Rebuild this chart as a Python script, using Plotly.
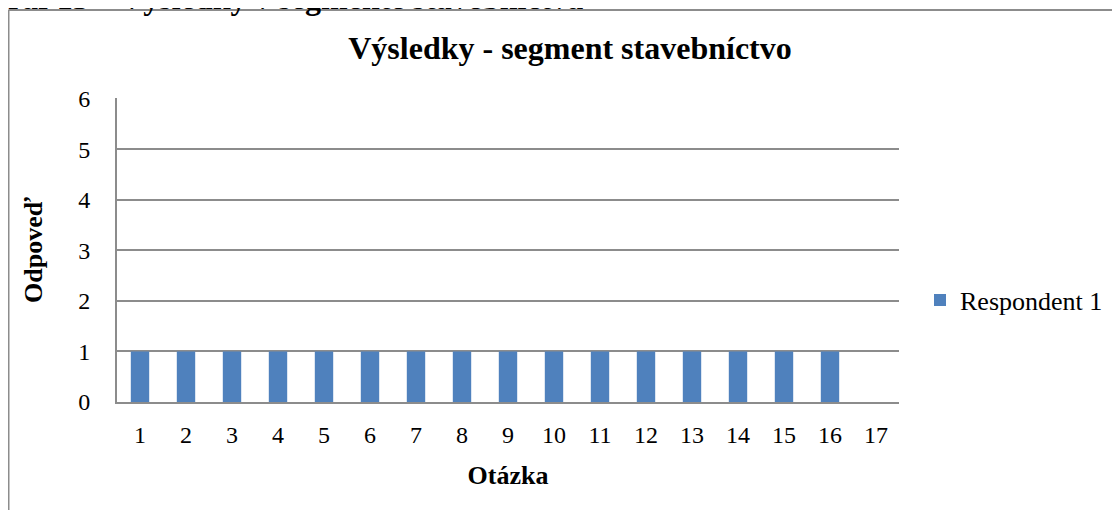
import plotly.graph_objects as go

categories = [str(i) for i in range(1, 18)]
respondent1 = [1, 1, 1, 1, 1, 1, 1, 1, 1, 1, 1, 1, 1, 1, 1, 1, None]
y_ticks = [0, 1, 2, 3, 4, 5, 6]

FONT = "Liberation Serif"
GRID = "#8c8c8c"

# figure coordinates (page has an 8px body margin)
W, H = 1112, 502
L, R, T, B = 109, 221, 90, 108
pw, ph = W - L - R, H - T - B

def px(x):
    return (x - L) / pw

def py(y):
    return (H - B - y) / ph

fig = go.Figure()
fig.add_trace(go.Bar(
    x=categories, y=respondent1, name="Respondent 1",
    marker=dict(color="#4F81BD", line=dict(width=0)),
    showlegend=True,
))

fig.update_layout(
    width=W, height=H,
    margin=dict(l=L, r=R, t=T, b=B, autoexpand=False),
    paper_bgcolor="white", plot_bgcolor="white",
    bargap=0.6,
    font=dict(family=FONT, color="black", size=24),
    title=dict(text="<b>Výsledky - segment stavebníctvo</b>",
               font=dict(family=FONT, size=32, color="black"),
               x=562 / W, xanchor="center", y=1 - 40 / H, yanchor="middle"),
    xaxis=dict(type="category", tickfont=dict(family=FONT, size=24, color="black"),
               showgrid=False,
               showline=True, linecolor=GRID, linewidth=2,
               ticks="", ticklen=0, ticklabelstandoff=10,
               title=dict(text="<b>Otázka</b>",
                          font=dict(family=FONT, size=26, color="black"), standoff=19)),
    yaxis=dict(range=[0, 6.015], tickvals=y_ticks,
               tickfont=dict(family=FONT, size=24, color="black"),
               showgrid=True, gridcolor=GRID, gridwidth=2,
               showline=True, linecolor=GRID, linewidth=2, zeroline=False,
               ticks="", ticklen=0, ticklabelstandoff=20,
               title=dict(text="<b>Odpoveď</b>",
                          font=dict(family=FONT, size=26, color="black"), standoff=28)),
    legend=dict(x=px(912), y=py(292), xanchor="left", yanchor="middle",
                font=dict(family=FONT, size=26, color="black"),
                bgcolor="rgba(0,0,0,0)", itemwidth=30),
)

# outer chart frame (top and left edges visible)
fig.add_shape(type="line", xref="paper", yref="paper",
              x0=px(0.5), x1=px(W + 5), y0=py(2), y1=py(2),
              line=dict(color="#8c8c8c", width=2))
fig.add_shape(type="line", xref="paper", yref="paper",
              x0=px(0.5), x1=px(0.5), y0=py(2), y1=py(H + 5),
              line=dict(color="#8c8c8c", width=2))

# cut-off document caption above the frame
fig.add_annotation(text="<b>Graf 13 – Výsledky v segmente stavebníctva</b>",
                   xref="paper", yref="paper", x=px(-27), y=py(10),
                   xanchor="left", yanchor="bottom", showarrow=False,
                   font=dict(family=FONT, size=32, color="black"))

fig.write_html("out.html")
